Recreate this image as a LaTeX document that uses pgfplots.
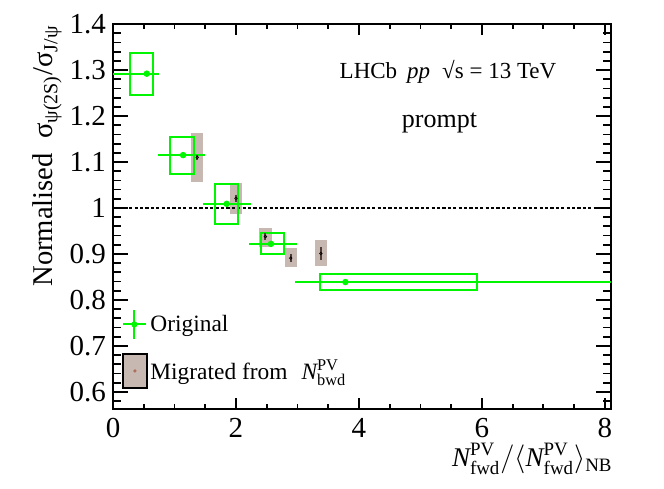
\documentclass[border=0pt]{standalone}
\usepackage{pgfplots}
\usepackage{pgfplotstable}
\pgfplotsset{compat=1.18}
\usepackage{fontspec}
\setmainfont{Liberation Serif}
\definecolor{rgreen}{RGB}{0,245,0}
\definecolor{migfill}{RGB}{199,185,178}
\definecolor{migbar}{RGB}{80,60,55}
\definecolor{migdot}{RGB}{175,110,90}

\pgfplotstableread{
x y em ep
0.55 1.292 0.55 0.20
1.14 1.115 0.41 0.36
1.85 1.009 0.38 0.39
2.57 0.922 0.35 0.42
3.78 0.839 0.82 4.40
}\origdata

\pgfplotstableread{
x y ey
1.37 1.110 0.006
2.00 1.021 0.008
2.48 0.938 0.008
2.89 0.891 0.008
3.38 0.901 0.0145
}\migdata

\begin{document}
\begin{tikzpicture}
\useasboundingbox (-56.5pt,-39.5pt) rectangle (275.5pt,204.5pt);
\begin{axis}[
  scale only axis, width=249pt, height=192.5pt,
  xmin=0, xmax=8.1, ymin=0.563, ymax=1.4,
  xtick={0,2,4,6,8},
  minor xtick={0.5,1,1.5,2.5,3,3.5,4.5,5,5.5,6.5,7,7.5},
  ytick={0.6,0.7,0.8,0.9,1,1.1,1.2,1.3,1.4},
  minor ytick={0.58,0.62,0.64,0.66,0.68,0.72,0.74,0.76,0.78,0.82,0.84,0.86,0.88,0.92,0.94,0.96,0.98,1.02,1.04,1.06,1.08,1.12,1.14,1.16,1.18,1.22,1.24,1.26,1.28,1.32,1.34,1.36,1.38},
  tick align=inside,
  major tick length=7.5pt, minor tick length=4pt,
  xtick style={/pgfplots/major tick length=5.5pt,/pgfplots/minor tick length=2.6pt},
  axis line style={line width=1pt},
  tick style={line width=0.9pt, black},
  /pgf/number format/assume math mode=true,
  xticklabel={\pgfmathprintnumber{\tick}},
  yticklabel={\pgfmathprintnumber[fixed]{\tick}},
  tick label style={font=\rmfamily\fontsize{14.5}{16}\selectfont},
  xticklabel style={yshift=-1pt},
  xlabel={$\textit{N}^{\mathrm{PV}}_{\mathrm{fwd}}/\langle \textit{N}^{\mathrm{PV}}_{\mathrm{fwd}}\rangle_{\mathrm{NB}}$},
  xlabel style={at={(axis description cs:1.004,-0.1506)}, anchor=base east, inner sep=0pt, font=\fontsize{13.5}{16}\selectfont},
  ylabel={Normalised\ \ σ\textsubscript{ψ(2S)}/σ\textsubscript{J/ψ}},
  ylabel style={at={(axis description cs:-0.1205,0.3169)}, anchor=base west, inner sep=0pt, font=\fontsize{14.3}{16}\selectfont},
  legend style={at={(axis description cs:0.0171,0.261)}, anchor=north west, draw=none, fill=none,
    inner sep=0pt, row sep=6.5pt, column sep=0pt, font=\fontsize{11.7}{13.5}\selectfont,
    nodes={inner sep=1.25pt}, cells={anchor=west}},
  legend cell align=left,
]
\addlegendimage{legend image code/.code={
  \draw[rgreen, line width=1pt] (0pt,0pt) -- (11.5pt,0pt) (5.75pt,-7.25pt) -- (5.75pt,7.25pt);
  \fill[rgreen] (5.75pt,0pt) circle (1.3pt);}}
\addlegendentry{Original}
\addlegendimage{legend image code/.code={
  \draw[black, line width=1pt, fill=migfill] (0pt,-8.5pt) rectangle (12pt,8.5pt);
  \fill[migdot] (6pt,0pt) circle (0.6pt);}}
\addlegendentry{Migrated from\hspace{7pt}$\textit{N}^{\mathrm{PV}}_{\mathrm{bwd}}$}

% migrated systematic boxes
\addplot[forget plot, fill=migfill, draw=none] coordinates {(1.27,1.056) (1.47,1.056) (1.47,1.164) (1.27,1.164)} -- cycle;
\addplot[forget plot, fill=migfill, draw=none] coordinates {(1.90,0.986) (2.10,0.986) (2.10,1.055) (1.90,1.055)} -- cycle;
\addplot[forget plot, fill=migfill, draw=none] coordinates {(2.38,0.916) (2.58,0.916) (2.58,0.956) (2.38,0.956)} -- cycle;
\addplot[forget plot, fill=migfill, draw=none] coordinates {(2.79,0.871) (2.99,0.871) (2.99,0.912) (2.79,0.912)} -- cycle;
\addplot[forget plot, fill=migfill, draw=none] coordinates {(3.28,0.873) (3.48,0.873) (3.48,0.931) (3.28,0.931)} -- cycle;

% reference line
\addplot[forget plot, black, line width=0.8pt, dash pattern=on 1.6pt off 1.1pt] coordinates {(0,1) (8.1,1)};

% original systematic boxes
\addplot[forget plot, draw=rgreen, line width=1pt, mark=none] coordinates {(0.28,1.246) (0.65,1.246) (0.65,1.338) (0.28,1.338)} -- cycle;
\addplot[forget plot, draw=rgreen, line width=1pt, mark=none] coordinates {(0.93,1.074) (1.32,1.074) (1.32,1.154) (0.93,1.154)} -- cycle;
\addplot[forget plot, draw=rgreen, line width=1pt, mark=none] coordinates {(1.66,0.965) (2.04,0.965) (2.04,1.053) (1.66,1.053)} -- cycle;
\addplot[forget plot, draw=rgreen, line width=1pt, mark=none] coordinates {(2.40,0.900) (2.78,0.900) (2.78,0.945) (2.40,0.945)} -- cycle;
\addplot[forget plot, draw=rgreen, line width=1pt, mark=none] coordinates {(3.37,0.822) (5.92,0.822) (5.92,0.856) (3.37,0.856)} -- cycle;

% original points
\addplot[forget plot, only marks, mark=*, mark size=1.4pt, mark options={fill=rgreen, draw=rgreen},
  error bars/.cd, x dir=both, x explicit, error mark=none,
  error bar style={line width=1pt, rgreen}]
  table[x=x, y=y, x error plus=ep, x error minus=em] {\origdata};

% migrated points
\addplot[forget plot, only marks, mark=*, mark size=0.6pt, mark options={fill=migdot, draw=none},
  error bars/.cd, y dir=both, y explicit, error mark=none,
  error bar style={line width=1pt, migbar}]
  table[x=x, y=y, y error=ey] {\migdata};

\node[anchor=base, font=\fontsize{11.5}{13}\selectfont] at (axis description cs:0.6727,0.8597)
  {LHCb\hspace{5pt}\textit{pp}\hspace{6pt}√s = 13 TeV};
\node[anchor=base, font=\fontsize{13}{15}\selectfont] at (axis description cs:0.6556,0.7299) {prompt};
\end{axis}
\end{tikzpicture}
\end{document}
